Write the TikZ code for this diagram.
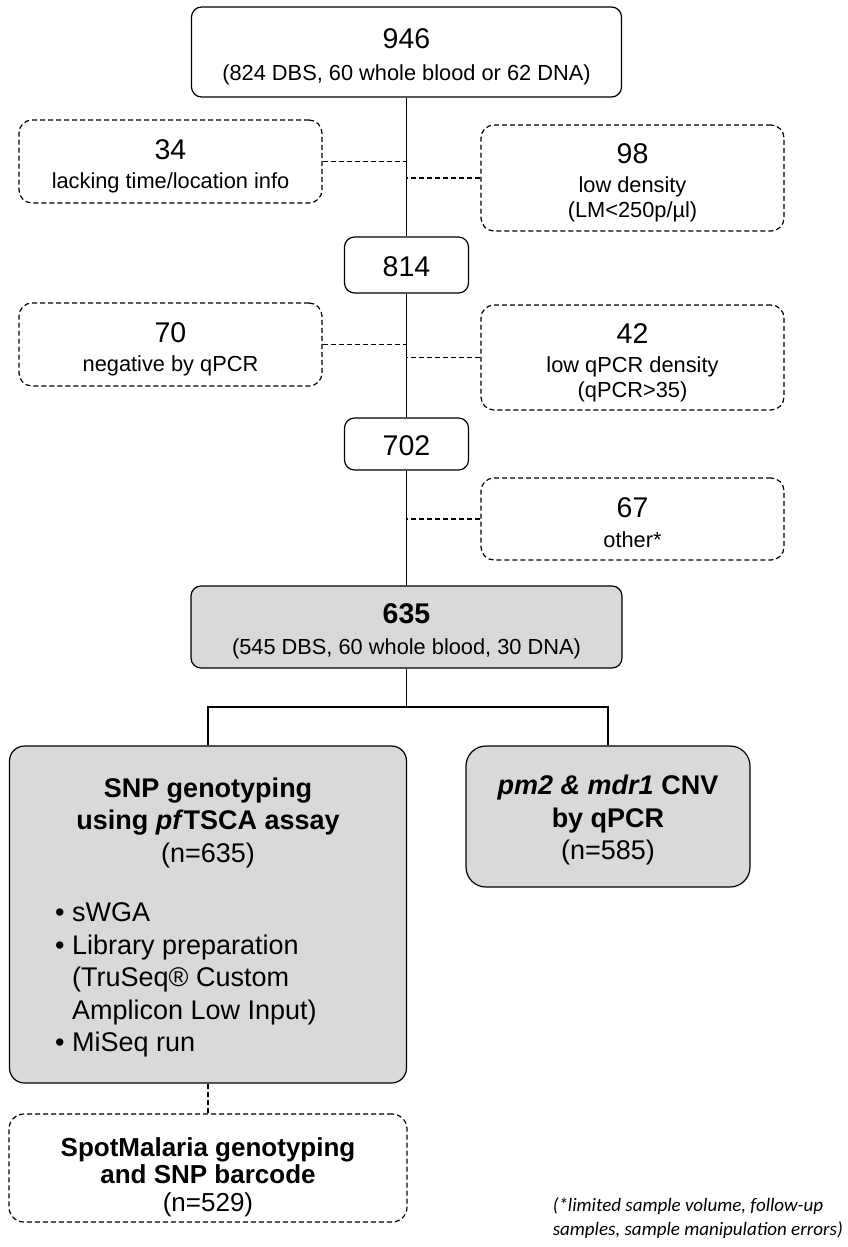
\documentclass[tikz,border=0pt]{standalone}
\usepackage{fontspec}
\setmainfont{Liberation Sans}
\newfontfamily\notefont{Carlito}
\usetikzlibrary{positioning}
\definecolor{boxgray}{RGB}{217,217,217}
\newcommand{\numsize}{\fontsize{28.5}{32}\selectfont}
\newcommand{\txtsize}{\fontsize{21.8}{25}\selectfont}
\newcommand{\bigtxt}{\fontsize{27}{32.5}\selectfont}
\newcommand{\spotsize}{\fontsize{26}{27.5}\selectfont}
\tikzset{
	flowbox/.style={draw, line width=1.2pt, rounded corners=10pt, inner sep=0pt},
	grayflow/.style={flowbox, fill=boxgray},
	dropbox/.style={flowbox, dash pattern=on 5pt off 3pt, rounded corners=13pt},
	flowtext/.style={align=center, inner sep=0pt, font=\txtsize},
	flowline/.style={line width=1.2pt},
	dropline/.style={line width=1.2pt, dash pattern=on 5pt off 3pt}
}
\begin{document}
\begin{tikzpicture}[x=1pt, y=-1pt]
		\useasboundingbox (0,0) rectangle (848,1247);
		%draw main path
		\node[flowbox, minimum width=430, minimum height=90] (n946) at (406.5,52) {};
		\node[flowbox, minimum width=124, minimum height=56] (n814) at (406.5,265) {};
		\node[flowbox, minimum width=124, minimum height=52] (n702) at (406.5,444) {};
		\node[grayflow, minimum width=431, minimum height=82] (n635) at (406.5,627) {};
		\node[flowtext] (t946) at ([yshift=-5pt]n946.center) {{\numsize 946}\\[7pt](824 DBS, 60 whole blood or 62 DNA)};
		\node[flowtext, font=\numsize] (t814) at ([yshift=-2pt]n814.center) {814};
		\node[flowtext, font=\numsize] (t702) at ([yshift=-2pt]n702.center) {702};
		\node[flowtext] (t635) at ([yshift=-4pt]n635.center) {{\numsize\bfseries 635}\\[6pt](545 DBS, 60 whole blood, 30 DNA)};
		%draw excluded samples
		\node[dropbox, minimum width=303, minimum height=83] (n34) at (170.5,161.5) {};
		\node[dropbox, minimum width=303, minimum height=106] (n98) at (632.5,178) {};
		\node[dropbox, minimum width=303, minimum height=83] (n70) at (170.5,344.5) {};
		\node[dropbox, minimum width=303, minimum height=105] (n42) at (632.5,357.5) {};
		\node[dropbox, minimum width=303, minimum height=82] (n67) at (632.5,519) {};
		\node[flowtext] (t34) at ([yshift=-5pt]n34.center) {{\numsize 34}\\[4pt]lacking time/location info};
		\node[flowtext] (t98) at ([yshift=-5pt]n98.center) {{\numsize 98}\\[4pt]low density\\(LM<250p/µl)};
		\node[flowtext] (t70) at ([yshift=-5pt]n70.center) {{\numsize 70}\\[4pt]negative by qPCR};
		\node[flowtext] (t42) at ([yshift=-5pt]n42.center) {{\numsize 42}\\[4pt]low qPCR density\\(qPCR>35)};
		\node[flowtext] (t67) at ([yshift=-4pt]n67.center) {{\numsize 67}\\[5pt]other*};
		%draw analyses
		\node[grayflow, rounded corners=15pt, minimum width=397, minimum height=337] (snp) at (208,914.5) {};
		\node[flowtext, font=\bigtxt] (snptitle) at (208,823) {\bfseries SNP genotyping\\\bfseries using \textit{pf}TSCA assay\\(n=635)};
		\node[flowtext, font=\bigtxt, align=left, anchor=west] (snplist) at (55,980) {• sWGA\\• Library preparation\\\phantom{• }(TruSeq® Custom\\\phantom{• }Amplicon Low Input)\\• MiSeq run};
		\node[grayflow, rounded corners=20pt, minimum width=284, minimum height=141] (pm2) at (608,816.5) {};
		\node[flowtext, font=\bigtxt] (tpm2) at ([yshift=-4pt]pm2.center) {{\bfseries\itshape pm2 \& mdr1} {\bfseries CNV}\\\bfseries by qPCR\\(n=585)};
		\node[dropbox, rounded corners=15pt, minimum width=398, minimum height=108] (spot) at (208,1168) {};
		\node[flowtext, font=\spotsize] (tspot) at ([yshift=-9pt]spot.center) {\bfseries SpotMalaria genotyping\\\bfseries and SNP barcode\\(n=529)};
		\node[font=\notefont\itshape\fontsize{19}{23.2}\selectfont, align=left, inner sep=0pt, anchor=east] (note) at (843,1218) {(*limited sample volume, follow-up\\samples, sample manipulation errors)};
		%draw connectors
		\coordinate (fork) at (406.5,707);
		\draw[flowline] (n946) -- (n814);
		\draw[flowline] (n814) -- (n702);
		\draw[flowline] (n702) -- (n635);
		\draw[flowline] (n635) -- (fork) -| (snp);
		\draw[flowline] (fork) -| (pm2);
		\draw[dropline] (n34.east) -- (n34.east -| n946.south);
		\draw[dropline] (n98.west) -- (n98.west -| n946.south);
		\draw[dropline] (n70.east) -- (n70.east -| n814.south);
		\draw[dropline] (n42.west) -- (n42.west -| n814.south);
		\draw[dropline] (n67.west) -- (n67.west -| n702.south);
		\draw[dropline] (snp) -- (spot);
\end{tikzpicture}
\end{document}
